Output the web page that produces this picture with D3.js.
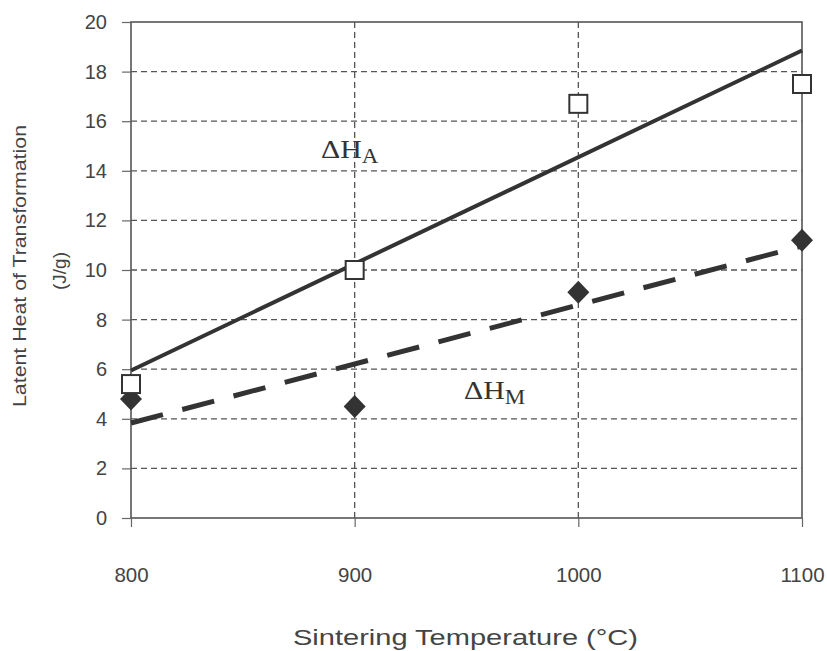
<!DOCTYPE html>
<html>
<head>
<meta charset="utf-8">
<title>Latent heat vs sintering temperature</title>
<script src="https://cdn.jsdelivr.net/npm/d3@7"></script>
<style>
  body { margin: 0; background: #fff; }
</style>
</head>
<body>
<script>
// data
var temps = [800, 900, 1000, 1100];
var heatA = [5.4, 10.0, 16.7, 17.5];   // open squares, dH_A
var heatM = [4.8, 4.5, 9.1, 11.2];     // filled diamonds, dH_M
var yTicks = [0, 2, 4, 6, 8, 10, 12, 14, 16, 18, 20];

var w = 827, h = 651;
var padL = 131, padR = 802, padT = 22, padB = 518;
var sans = "Liberation Sans, Arial, sans-serif";

var svg = d3.select("body").append("svg")
    .attr("width", w)
    .attr("height", h);

var x = d3.scaleLinear().domain([800, 1100]).range([padL, padR]);
var y = d3.scaleLinear().domain([0, 20]).range([padB, padT]);

// least squares trend line
function fit(xs, ys) {
    var mx = d3.mean(xs), my = d3.mean(ys);
    var sxy = d3.sum(xs, function (d, i) { return (d - mx) * (ys[i] - my); });
    var sxx = d3.sum(xs, function (d) { return (d - mx) * (d - mx); });
    var b = sxy / sxx;
    return function (t) { return my + b * (t - mx); };
}

var ink = "#333";

// horizontal grid
svg.append("g")
    .selectAll("line")
    .data(yTicks.filter(function (d) { return d > 0 && d < 20; }))
    .enter().append("line")
    .attr("x1", padL).attr("x2", padR)
    .attr("y1", function (d) { return y(d); })
    .attr("y2", function (d) { return y(d); })
    .attr("stroke", "#555")
    .attr("stroke-width", 1.3)
    .attr("stroke-dasharray", "6,4");

// vertical grid
svg.append("g")
    .selectAll("line")
    .data(temps.slice(1, 3))
    .enter().append("line")
    .attr("x1", function (d) { return x(d); })
    .attr("x2", function (d) { return x(d); })
    .attr("y1", padT).attr("y2", padB)
    .attr("stroke", "#555")
    .attr("stroke-width", 1.3)
    .attr("stroke-dasharray", "6,4");

// frame
svg.append("rect")
    .attr("x", padL).attr("y", padT)
    .attr("width", padR - padL).attr("height", padB - padT)
    .attr("fill", "none")
    .attr("stroke", "#555")
    .attr("stroke-width", 1.6);

// axes
var yAxis = d3.axisLeft(y).tickValues(yTicks).tickSize(9).tickPadding(15).tickFormat(d3.format("d"));
var gy = svg.append("g").attr("transform", "translate(" + padL + ",0)").call(yAxis);
var xAxis = d3.axisBottom(x).tickValues(temps).tickSize(9).tickPadding(40).tickFormat(d3.format("d"));
var gx = svg.append("g").attr("transform", "translate(0," + padB + ")").call(xAxis);

[gy, gx].forEach(function (g) {
    g.select(".domain").remove();
    g.selectAll(".tick line").attr("stroke", "#666").attr("stroke-width", 1.2);
    g.selectAll(".tick text")
        .attr("fill", "#444")
        .style("font-family", sans);
});
gy.selectAll(".tick text").style("font-size", "20px");
gx.selectAll(".tick text").style("font-size", "20.5px");

// trend lines
var fA = fit(temps, heatA);
var fM = fit(temps, heatM);

svg.append("line")
    .attr("x1", x(800)).attr("y1", y(fA(800)))
    .attr("x2", x(1100)).attr("y2", y(fA(1100)))
    .attr("stroke", ink)
    .attr("stroke-width", 4);

svg.append("line")
    .attr("x1", x(800)).attr("y1", y(fM(800)))
    .attr("x2", x(1100)).attr("y2", y(fM(1100)))
    .attr("stroke", ink)
    .attr("stroke-width", 5)
    .attr("stroke-dasharray", "33,20");

// markers
svg.selectAll("path.dia")
    .data(temps)
    .enter().append("path")
    .attr("class", "dia")
    .attr("d", "M0,-11.5L11,0L0,11.5L-11,0Z")
    .attr("transform", function (d, i) { return "translate(" + x(d) + "," + y(heatM[i]) + ")"; })
    .attr("fill", ink);

svg.selectAll("rect.sq")
    .data(temps)
    .enter().append("rect")
    .attr("class", "sq")
    .attr("x", function (d) { return x(d) - 9; })
    .attr("y", function (d, i) { return y(heatA[i]) - 9; })
    .attr("width", 18).attr("height", 18)
    .attr("fill", "#fff")
    .attr("stroke", ink)
    .attr("stroke-width", 2);

// series labels
function seriesLabel(px, py, sub) {
    var t = svg.append("text")
        .attr("transform", "translate(" + px + "," + py + ") scale(1.15,1)")
        .attr("fill", ink)
        .style("font-family", "Liberation Serif, Times New Roman, serif")
        .style("font-size", "26px");
    t.append("tspan").text("\u0394H");
    t.append("tspan").attr("dy", 5).style("font-size", "20px").text(sub);
}
seriesLabel(321, 158, "A");
seriesLabel(464, 399, "M");

// axis titles
svg.append("text")
    .attr("x", 293).attr("y", 645)
    .attr("textLength", 345)
    .attr("lengthAdjust", "spacingAndGlyphs")
    .attr("fill", "#444")
    .style("font-family", sans)
    .style("font-size", "22px")
    .text("Sintering Temperature (\u00B0C)");

svg.append("text")
    .attr("transform", "translate(26,407) rotate(-90)")
    .attr("textLength", 282)
    .attr("lengthAdjust", "spacingAndGlyphs")
    .attr("fill", "#444")
    .style("font-family", sans)
    .style("font-size", "19px")
    .text("Latent Heat of Transformation");

svg.append("text")
    .attr("transform", "translate(66,290) rotate(-90)")
    .attr("textLength", 38)
    .attr("lengthAdjust", "spacingAndGlyphs")
    .attr("fill", "#444")
    .style("font-family", sans)
    .style("font-size", "19px")
    .text("(J/g)");
</script>
</body>
</html>
